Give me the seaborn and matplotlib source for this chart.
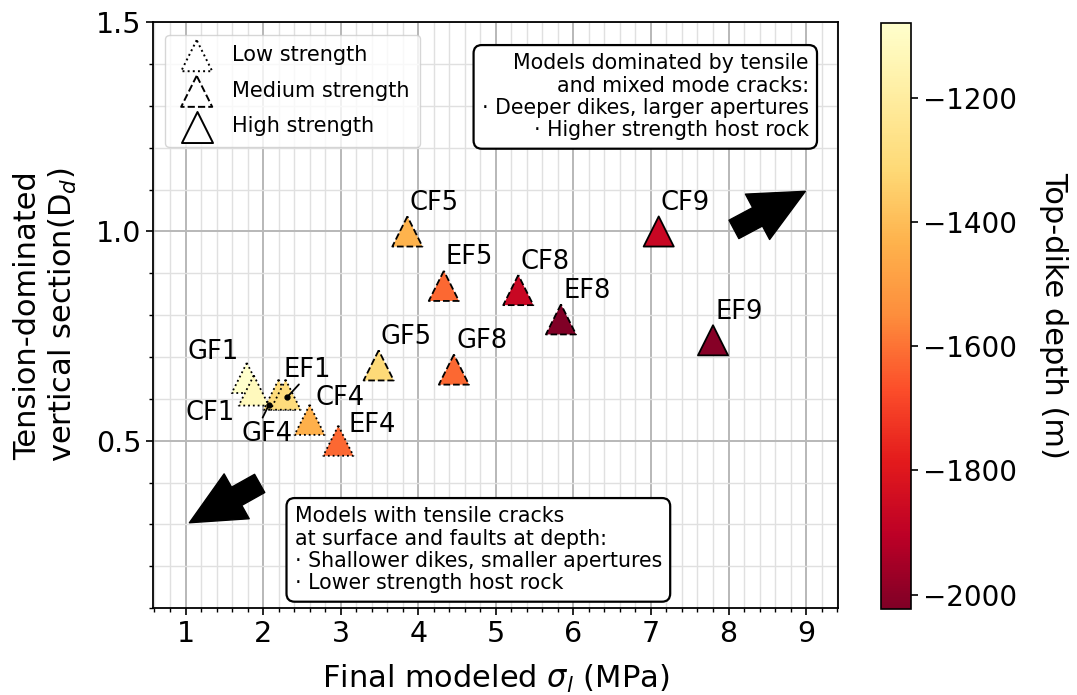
import numpy as np
import pandas as pd
import matplotlib
matplotlib.use("Agg")
import matplotlib.pyplot as plt
import matplotlib.transforms as mtransforms
from matplotlib.ticker import MultipleLocator
from matplotlib.colors import Normalize
from matplotlib.cm import ScalarMappable
import seaborn as sns

# ---- model results ----
models = ["GF1", "CF1", "GF4", "EF1", "CF4", "EF4",
          "GF5", "CF5", "EF5", "GF8", "CF8", "EF8",
          "CF9", "EF9"]
sigma_final = [1.79, 1.88, 2.20, 2.29, 2.60, 2.97,
               3.49, 3.86, 4.33, 4.46, 5.29, 5.84,
               7.10, 7.80]
tension_dd = [0.65, 0.62, 0.61, 0.61, 0.55, 0.50,
              0.68, 1.00, 0.87, 0.67, 0.86, 0.79,
              1.00, 0.74]
top_depth = [-1079, -1120, -1300, -1300, -1440, -1620,
             -1310, -1430, -1620, -1620, -1870, -2023,
             -1870, -2010]
strength = ["Low"] * 6 + ["Medium"] * 6 + ["High"] * 2

strength_levels = ["Low", "Medium", "High"]
strength_labels = ["Low strength", "Medium strength", "High strength"]
edge_styles = {"Low": ":", "Medium": "--", "High": "-"}
cbar_ticks = [-1200, -1400, -1600, -1800, -2000]

df = pd.DataFrame({"model": models, "sigma": sigma_final, "dd": tension_dd,
                   "depth": top_depth, "strength": strength})

# label placement (offset in points from the marker, horizontal alignment)
default_offset = (1.5, 15.5, "left")
label_offsets = {
    "GF1": (-5.5, 14.0, "right"),
    "CF1": (-14.0, -21.0, "right"),
    "EF1": (-1.2, 12.7, "left"),
    "GF4": (-27.0, -33.4, "left"),
    "CF4": (4.3, 10.8, "left"),
    "EF4": (7.2, 6.3, "left"),
}
# leader lines: (start offset, end offset) in points from the marker
leaders = {
    "EF1": ((9.6, 7.4), (1.2, -1.7)),
    "GF4": ((-11.5, -16.5), (-7.2, -7.7)),
}

sns.set_style("white")
plt.rcParams["font.family"] = ["DejaVu Sans"]
plt.rcParams["mathtext.fontset"] = "dejavusans"
for key in ["text.color", "axes.labelcolor", "xtick.color", "ytick.color",
            "axes.edgecolor"]:
    plt.rcParams[key] = "black"

fig = plt.figure(figsize=(10.77, 6.95), dpi=100)
ax = fig.add_axes([0.142, 0.125, 0.636, 0.843])
cax = fig.add_axes([0.818, 0.124, 0.028, 0.843])

vmin, vmax = min(top_depth), max(top_depth)
norm = Normalize(vmin=vmin, vmax=vmax)
cmap = plt.get_cmap("YlOrRd_r")

for lvl in strength_levels:
    sub = df[df["strength"] == lvl]
    sns.scatterplot(data=sub, x="sigma", y="dd", hue="depth", palette=cmap,
                    hue_norm=norm, marker="^", s=470, edgecolor="black",
                    linewidth=1.3, linestyle=edge_styles[lvl], legend=False,
                    ax=ax, zorder=3)

# strength legend with open markers
for lvl, lab in zip(strength_levels, strength_labels):
    ax.scatter([], [], marker="^", s=500, facecolor="white", edgecolor="black",
               linewidth=1.4, linestyle=edge_styles[lvl], label=lab)
leg = ax.legend(loc="upper left", fontsize=15, labelspacing=0.75,
                handletextpad=0.7, borderpad=0.5, borderaxespad=0.6,
                frameon=True, fancybox=True)
leg.get_frame().set_edgecolor("#cccccc")

# model labels
for _, r in df.iterrows():
    dx, dy, ha = label_offsets.get(r["model"], default_offset)
    ax.annotate(r["model"], xy=(r["sigma"], r["dd"]), xytext=(dx, dy),
                textcoords="offset points", ha=ha, va="baseline",
                fontsize=18.5, zorder=5)
    if r["model"] in leaders:
        (sx, sy), (ex, ey) = leaders[r["model"]]
        tr_start = mtransforms.offset_copy(ax.transData, fig=fig, x=sx, y=sy, units="points")
        tr_end = mtransforms.offset_copy(ax.transData, fig=fig, x=ex, y=ey, units="points")
        ax.annotate("", xy=(r["sigma"], r["dd"]), xycoords=tr_end,
                    xytext=(r["sigma"], r["dd"]), textcoords=tr_start,
                    arrowprops=dict(arrowstyle="-", color="black", lw=1.3,
                                    shrinkA=0, shrinkB=0), zorder=5)
        ax.plot([r["sigma"]], [r["dd"]], "o", color="black", ms=3.5,
                transform=tr_end, zorder=6)

# trend arrows
arrow_style = dict(facecolor="black", edgecolor="black", width=15,
                   headwidth=37, headlength=39, shrink=0)
ax.annotate("", xy=(8.99, 1.096), xytext=(8.07, 1.005), arrowprops=arrow_style, zorder=4)
ax.annotate("", xy=(1.05, 0.304), xytext=(1.956, 0.398), arrowprops=arrow_style, zorder=4)

box = dict(boxstyle="round,pad=0.4", facecolor="white", edgecolor="black", lw=1.6)
ax.text(0.9575, 0.947,
        "Models dominated by tensile\nand mixed mode cracks:\n"
        "\u00b7 Deeper dikes, larger apertures\n\u00b7 Higher strength host rock",
        transform=ax.transAxes, ha="right", va="top", multialignment="right",
        fontsize=14.8, linespacing=1.15, bbox=box, zorder=6)
ax.text(0.207, 0.025,
        "Models with tensile cracks\nat surface and faults at depth:\n"
        "\u00b7 Shallower dikes, smaller apertures\n\u00b7 Lower strength host rock",
        transform=ax.transAxes, ha="left", va="bottom", multialignment="left",
        fontsize=14.8, linespacing=1.15, bbox=box, zorder=6)

ax.set_xlim(0.58, 9.41)
ax.set_ylim(0.1, 1.5)
ax.xaxis.set_major_locator(MultipleLocator(1))
ax.xaxis.set_minor_locator(MultipleLocator(0.2))
ax.yaxis.set_major_locator(MultipleLocator(0.5))
ax.yaxis.set_minor_locator(MultipleLocator(0.1))
ax.grid(which="major", color="#b8b8b8", lw=1.4, zorder=0)
ax.grid(which="minor", color="#e0e0e0", lw=1.0, zorder=0)
ax.set_axisbelow(True)
ax.tick_params(which="major", length=5, width=1.2, labelsize=20.5, direction="out",
               bottom=True, left=True)
ax.tick_params(which="minor", length=3, width=1.0, bottom=True, left=True)
for sp in ax.spines.values():
    sp.set_visible(True)
    sp.set_color("black")
    sp.set_linewidth(1.3)

ax.set_xlabel(r"Final modeled $\sigma_l$ (MPa)", fontsize=22, labelpad=11)
ax.set_ylabel("Tension-dominated\nvertical section(D$_d$)", fontsize=22, labelpad=12)

cb = fig.colorbar(ScalarMappable(norm=norm, cmap=cmap), cax=cax, ticks=cbar_ticks)
cb.outline.set_linewidth(1.2)
cb.outline.set_edgecolor("black")
cb.ax.tick_params(labelsize=20, length=5, width=1.2, color="black")
cb.set_label("Top-dike depth (m)", fontsize=22, rotation=270, labelpad=37)

fig.savefig("out.png", dpi=100)
